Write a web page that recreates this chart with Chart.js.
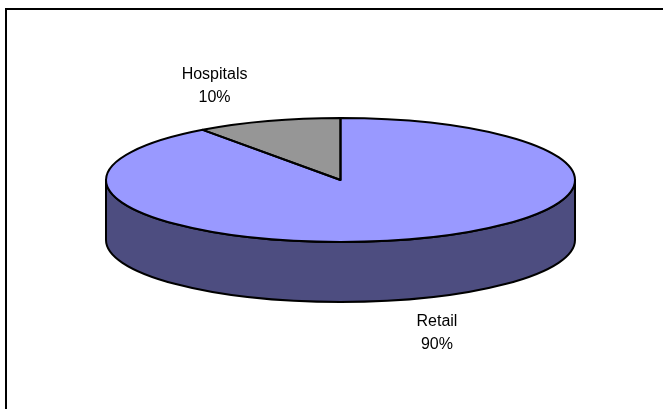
<!DOCTYPE html>
<html>
<head>
<meta charset="utf-8">
<script src="https://cdn.jsdelivr.net/npm/chart.js@4.4.1/dist/chart.umd.min.js"></script>
<style>
    html, body { margin: 0; padding: 0; background: #fff; }
    #wrap { position: relative; width: 663px; height: 409px; overflow: hidden; }
    #frame {
        position: absolute; left: 5px; top: 8px; width: 700px; height: 450px;
        border-left: 2px solid #000; border-top: 2px solid #000;
    }
    #pieChart { position: absolute; left: 0; top: 0; }
</style>
</head>
<body>
<div id="wrap">
    <div id="frame"></div>
    <canvas id="pieChart" width="663" height="409"></canvas>
</div>
<script>
// Chart data
const categories = ['Retail', 'Hospitals'];
const shares = [90, 10];

// Slice colours (top face / side wall)
const topColors = ['#9999ff', '#969696'];
const sideColors = ['#4d4d80', '#4b4b4b'];

// Draws the pie as a tilted 3D disc: side walls first, then the top face squashed into an ellipse
const pie3d = {
    id: 'pie3d',
    beforeDatasetsDraw(chart, args, opts) {
        const ctx = chart.ctx;
        const arcs = chart.getDatasetMeta(0).data;
        if (!arcs.length) return;
        const a0 = arcs[0];

        // front side walls (visible half is angle 0..PI in canvas coords)
        ctx.save();
        ctx.lineWidth = opts.lineWidth;
        ctx.strokeStyle = '#000';
        ctx.lineJoin = 'round';
        arcs.forEach((arc, i) => {
            [-2 * Math.PI, 0, 2 * Math.PI].forEach(shift => {
                const s = Math.max(arc.startAngle, shift);
                const e = Math.min(arc.endAngle, shift + Math.PI);
                if (e <= s) return;
                ctx.beginPath();
                ctx.ellipse(opts.cx, opts.cy, opts.rx, opts.ry, 0, s, e);
                ctx.ellipse(opts.cx, opts.cy + opts.depth, opts.rx, opts.ry, 0, e, s, true);
                ctx.closePath();
                ctx.fillStyle = sideColors[i];
                ctx.fill();
                ctx.stroke();
            });
        });
        ctx.restore();

        // squash the library's circle into the top ellipse
        ctx.save();
        ctx.translate(opts.cx, opts.cy);
        ctx.scale(opts.rx / a0.outerRadius, opts.ry / a0.outerRadius);
        ctx.translate(-a0.x, -a0.y);
    },
    afterDatasetsDraw(chart, args, opts) {
        const ctx = chart.ctx;
        ctx.restore();
        const arcs = chart.getDatasetMeta(0).data;
        const total = shares.reduce((a, b) => a + b, 0);

        // outlines of the top face
        ctx.save();
        ctx.lineWidth = opts.lineWidth;
        ctx.strokeStyle = '#000';
        ctx.lineJoin = 'round';
        arcs.forEach(arc => {
            ctx.beginPath();
            ctx.moveTo(opts.cx, opts.cy);
            ctx.ellipse(opts.cx, opts.cy, opts.rx, opts.ry, 0, arc.startAngle, arc.endAngle);
            ctx.closePath();
            ctx.stroke();
        });

        // labels
        ctx.fillStyle = '#000';
        ctx.font = '16px "Liberation Sans", Arial, sans-serif';
        ctx.textAlign = 'center';
        ctx.textBaseline = 'middle';
        arcs.forEach((arc, i) => {
            const mid = (arc.startAngle + arc.endAngle) / 2;
            const sin = Math.sin(mid);
            const px = opts.cx + Math.cos(mid) * opts.rx;
            const py = opts.cy + sin * opts.ry + (sin > 0 ? opts.depth : 0);
            const off = opts.labelOffsets[i];
            const lx = px + off[0];
            const ly = py + off[1];
            const pct = Math.round(shares[i] / total * 100) + '%';
            ctx.fillText(categories[i], lx, ly - opts.lineHeight / 2);
            ctx.fillText(pct, lx, ly + opts.lineHeight / 2);
        });
        ctx.restore();
    }
};

const pieChart = new Chart(document.getElementById('pieChart'), {
    type: 'pie',
    data: {
        labels: categories,
        datasets: [{
            data: shares,
            backgroundColor: topColors,
            borderWidth: 0,
            clip: false
        }]
    },
    options: {
        responsive: false,
        animation: false,
        events: [],
        plugins: {
            legend: { display: false },
            tooltip: { enabled: false },
            pie3d: {
                cx: 340.5,
                cy: 180,
                rx: 234.5,
                ry: 62,
                depth: 60,
                lineWidth: 2,
                lineHeight: 23,
                labelOffsets: [[24, 34.5], [-53.5, -34.5]]
            }
        }
    },
    plugins: [pie3d]
});
</script>
</body>
</html>
